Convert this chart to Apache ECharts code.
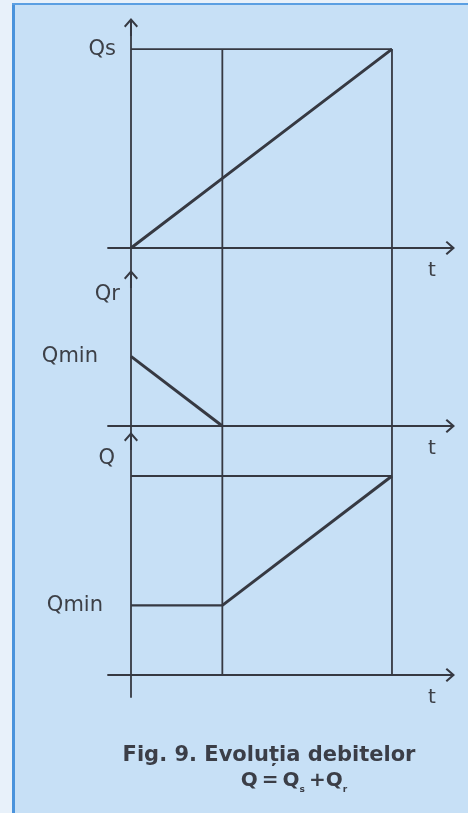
<!DOCTYPE html>
<html>
<head>
<meta charset="utf-8">
<title>Evolutia debitelor</title>
<script src="https://cdn.jsdelivr.net/npm/echarts@6/dist/echarts.min.js"></script>
<style>
  html, body { margin: 0; padding: 0; background: #c7e0f6; }
  #chart { width: 468px; height: 813px; }
</style>
</head>
<body>
<div id="chart"></div>
<script>
  // momentele t0, t1, t2 si debitele in aceste momente
  const tKnots = [0, 3.5, 10];
  const qsValues = [0, 3.5, 10];   // Qs creste liniar
  const qrValues = [3.5, 0, 0];    // Qr scade de la Qmin la 0
  const qValues = [3.5, 3.5, 10];  // Q = Qs + Qr
  const QS_MAX = 10;
  const QMIN = 3.5;

  const INK = '#363942';
  const LABEL = '#3d4047';
  const ARROW = 'path://M7,0 L14,8 L12.6,9.4 L8,4.2 L8,18 L6,18 L6,4.2 L1.4,9.4 L0,8 Z';

  // domeniul axelor verticale pentru cele trei diagrame
  const yExtents = [[-1.56, 11.11], [-0.754, 7.39], [-1.106, 11.76]];

  var myChart = echarts.init(document.getElementById('chart'))

  function xAxisFor (i) {
    return {
      type: 'value',
      gridIndex: i,
      min: -0.881,
      max: 12.07,
      axisLine: {
        onZero: true,
        symbol: ['none', ARROW],
        symbolSize: [14, 18],
        lineStyle: { color: INK, width: 1.8 }
      },
      axisTick: { show: false },
      axisLabel: { show: false },
      splitLine: { show: false },
      name: 't',
      nameLocation: 'end',
      nameGap: -14,
      nameMoveOverlap: false,
      nameTextStyle: {
        color: LABEL,
        fontFamily: 'DejaVu Sans',
        fontSize: 20,
        align: 'center',
        verticalAlign: 'top',
        padding: [13, 0, 0, 0]
      }
    }
  }

  function yAxisFor (i, label, margin, lift, name, nameGap, namePad) {
    return {
      type: 'value',
      gridIndex: i,
      min: yExtents[i][0],
      max: yExtents[i][1],
      axisLine: {
        onZero: true,
        symbol: ['none', ARROW],
        symbolSize: [14, 18],
        lineStyle: { color: INK, width: 1.8 }
      },
      axisTick: { show: false },
      splitLine: { show: false },
      axisLabel: {
        customValues: [label.value],
        formatter: function () { return label.text },
        margin: margin,
        color: LABEL,
        fontFamily: 'DejaVu Sans',
        fontSize: 21,
        padding: [0, 0, lift, 0]
      },
      name: name,
      nameLocation: 'end',
      nameGap: nameGap,
      nameMoveOverlap: false,
      nameTextStyle: {
        color: LABEL,
        fontFamily: 'DejaVu Sans',
        fontSize: 21,
        align: 'right',
        verticalAlign: 'middle',
        padding: [0, namePad, 0, 0]
      }
    }
  }

  function seg (i, pts, width) {
    return {
      type: 'line',
      xAxisIndex: i,
      yAxisIndex: i,
      data: pts,
      symbol: 'none',
      showSymbol: false,
      clip: false,
      silent: true,
      animation: false,
      lineStyle: { color: INK, width: width },
      z: 3
    }
  }

  var series = []
  // diagrama 1: Qs
  series.push(seg(0, [[tKnots[0], QS_MAX], [tKnots[2], QS_MAX]], 1.8))
  series.push(seg(0, [[tKnots[1], QS_MAX], [tKnots[1], yExtents[0][0]]], 1.8))
  series.push(seg(0, [[tKnots[2], QS_MAX], [tKnots[2], yExtents[0][0]]], 1.8))
  series.push(seg(0, tKnots.map((t, k) => [t, qsValues[k]]), 3))
  // diagrama 2: Qr
  series.push(seg(1, [[tKnots[1], yExtents[1][1]], [tKnots[1], yExtents[1][0]]], 1.8))
  series.push(seg(1, [[tKnots[2], yExtents[1][1]], [tKnots[2], yExtents[1][0]]], 1.8))
  series.push(seg(1, tKnots.slice(0, 2).map((t, k) => [t, qrValues[k]]), 3))
  // diagrama 3: Q
  series.push(seg(2, [[tKnots[0], QS_MAX], [tKnots[2], QS_MAX]], 1.8))
  series.push(seg(2, [[tKnots[1], yExtents[2][1]], [tKnots[1], 0]], 1.8))
  series.push(seg(2, [[tKnots[2], yExtents[2][1]], [tKnots[2], 0]], 1.8))
  series.push(seg(2, tKnots.slice(0, 2).map((t, k) => [t, qValues[k]]), 2.2))
  series.push(seg(2, tKnots.slice(1).map((t, k) => [t, qValues[k + 1]]), 3))

  var option = {
    backgroundColor: '#c7e0f6',
    animation: false,
    grid: [
      { left: 108, right: 22, top: 27, height: 252, outerBoundsMode: 'none' },
      { left: 108, right: 22, top: 279, height: 162, outerBoundsMode: 'none' },
      { left: 108, right: 22, top: 441, height: 256, outerBoundsMode: 'none' }
    ],
    xAxis: [xAxisFor(0), xAxisFor(1), xAxisFor(2)],
    yAxis: [
      yAxisFor(0, { value: QS_MAX, text: 'Qs' }, -8, 0, '', 0, 0),
      yAxisFor(1, { value: QMIN, text: 'Qmin' }, 10, 6, 'Qr', -16, 11),
      yAxisFor(2, { value: QMIN, text: 'Qmin' }, 5, 12, 'Q', -18, 16)
    ],
    series: series,
    graphic: [
      { type: 'rect', shape: { x: 0, y: 0, width: 12, height: 813 }, style: { fill: '#e8f1fa' }, silent: true },
      { type: 'rect', shape: { x: 0, y: 0, width: 468, height: 3 }, style: { fill: '#e8f1fa' }, silent: true },
      { type: 'rect', shape: { x: 12, y: 3, width: 3, height: 810 }, style: { fill: '#4a93dc' }, silent: true },
      { type: 'rect', shape: { x: 12, y: 3, width: 456, height: 2 }, style: { fill: '#5b9fe2' }, silent: true },
      {
        type: 'text',
        x: 269,
        y: 756,
        silent: true,
        style: {
          text: 'Fig. 9. Evoluția debitelor',
          font: 'bold 21px "DejaVu Sans"',
          fill: '#3b3e47',
          align: 'center',
          verticalAlign: 'middle'
        }
      },
      {
        type: 'text',
        x: 294,
        y: 781,
        silent: true,
        style: {
          text: '{m|Q\u2009=\u2009Q}{s|s}{m|\u2009+Q}{s|r}',
          align: 'center',
          verticalAlign: 'middle',
          rich: {
            m: { font: 'bold 20px "DejaVu Sans"', fill: '#3b3e47', lineHeight: 26, verticalAlign: 'middle' },
            s: { font: 'bold 9px "DejaVu Sans"', fill: '#3b3e47', lineHeight: 26, verticalAlign: 'bottom' }
          }
        }
      }
    ]
  }
  myChart.setOption(option)
</script>
</body>
</html>
